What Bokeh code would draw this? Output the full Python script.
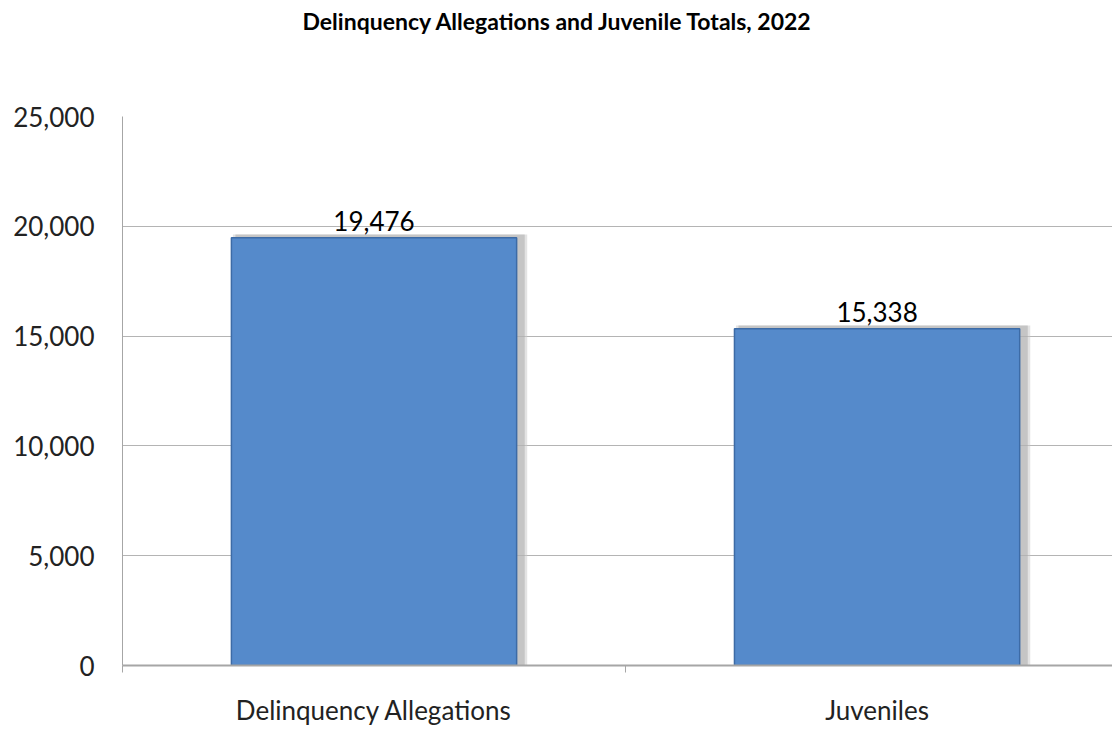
from bokeh.plotting import figure
from bokeh.models import Range1d, FixedTicker, NumeralTickFormatter, ColumnDataSource, Title
from bokeh.embed import file_html
from bokeh.resources import INLINE
from bokeh.core.properties import value

title_text = "Delinquency Allegations and Juvenile Totals, 2022"
categories = ["Delinquency Allegations", "Juveniles"]
counts = [19476, 15338]
y_ticks = [0, 5000, 10000, 15000, 20000, 25000]

xs = [i + 0.5 for i in range(len(categories))]
labels = [f"{v:,}" for v in counts]
src = ColumnDataSource(dict(x=xs, top=counts, label=labels,
                            xs=[x + 0.012 for x in xs], ts=[v + 150 for v in counts]))

FONT = "Lato"
p = figure(width=1112, height=728, output_backend="svg", toolbar_location=None,
           x_range=Range1d(0, 1.968), y_range=Range1d(0, 25000),
           min_border_left=122, min_border_right=0, min_border_top=116, min_border_bottom=51)
p.outline_line_color = None

# spacer panel between the frame and the title
spacer = Title(text=" ", text_font_size="1px", standoff=77)
p.add_layout(spacer, "above")

p.title.text = title_text
p.title.text_font = FONT
p.title.text_font_size = "23px"
p.title.text_font_style = "bold"
p.title.text_color = "#000000"
p.title.align = "left"
p.title.offset = 180
p.title.vertical_align = "top"
p.title.standoff = 0

# shadows
p.vbar(x="xs", top="ts", width=0.585, bottom=0, source=src, fill_color="#c8c8c8",
       fill_alpha=0.5, line_color=None)
p.vbar(x="xs", top="ts", width=0.575, bottom=0, source=src, fill_color="#a8a8a8",
       fill_alpha=0.5, line_color=None)
p.vbar(x="x", top="top", width=0.567, bottom=0, source=src, fill_color="#558ACB",
       line_color="#3D6BA6", line_width=1.5)
p.text(x="x", y="top", text="label", source=src, text_align="center",
       text_baseline="bottom", y_offset=-7, text_font=value(FONT),
       text_font_size="26px", text_color="#000000")

p.yaxis.ticker = FixedTicker(ticks=y_ticks)
p.yaxis.formatter = NumeralTickFormatter(format="0,0")
p.yaxis.axis_line_color = "#a6a6a6"
p.yaxis.major_tick_line_color = None
p.yaxis.major_tick_out = 0
p.yaxis.minor_tick_line_color = None
p.yaxis.major_label_text_font = FONT
p.yaxis.major_label_text_font_size = "26px"
p.yaxis.major_label_text_color = "#222222"
p.yaxis.major_label_standoff = 28

p.xaxis.ticker = FixedTicker(ticks=xs, minor_ticks=[0, 1, 2])
p.xaxis.major_label_overrides = {x: c for x, c in zip(xs, categories)}
p.xaxis.major_tick_line_color = None
p.xaxis.major_tick_out = 0
p.xaxis.minor_tick_line_color = "#a6a6a6"
p.xaxis.minor_tick_out = 7
p.xaxis.minor_tick_in = 0
p.xaxis.axis_line_color = "#a6a6a6"
p.xaxis.axis_line_width = 2
p.xaxis.major_label_text_font = FONT
p.xaxis.major_label_text_font_size = "26px"
p.xaxis.major_label_text_color = "#222222"
p.xaxis.major_label_standoff = 21

p.xgrid.grid_line_color = None
p.ygrid.ticker = FixedTicker(ticks=y_ticks)
p.ygrid.grid_line_color = "#b4b4b4"
p.ygrid.grid_line_width = 1

open("out.html", "w").write(file_html(p, INLINE))
